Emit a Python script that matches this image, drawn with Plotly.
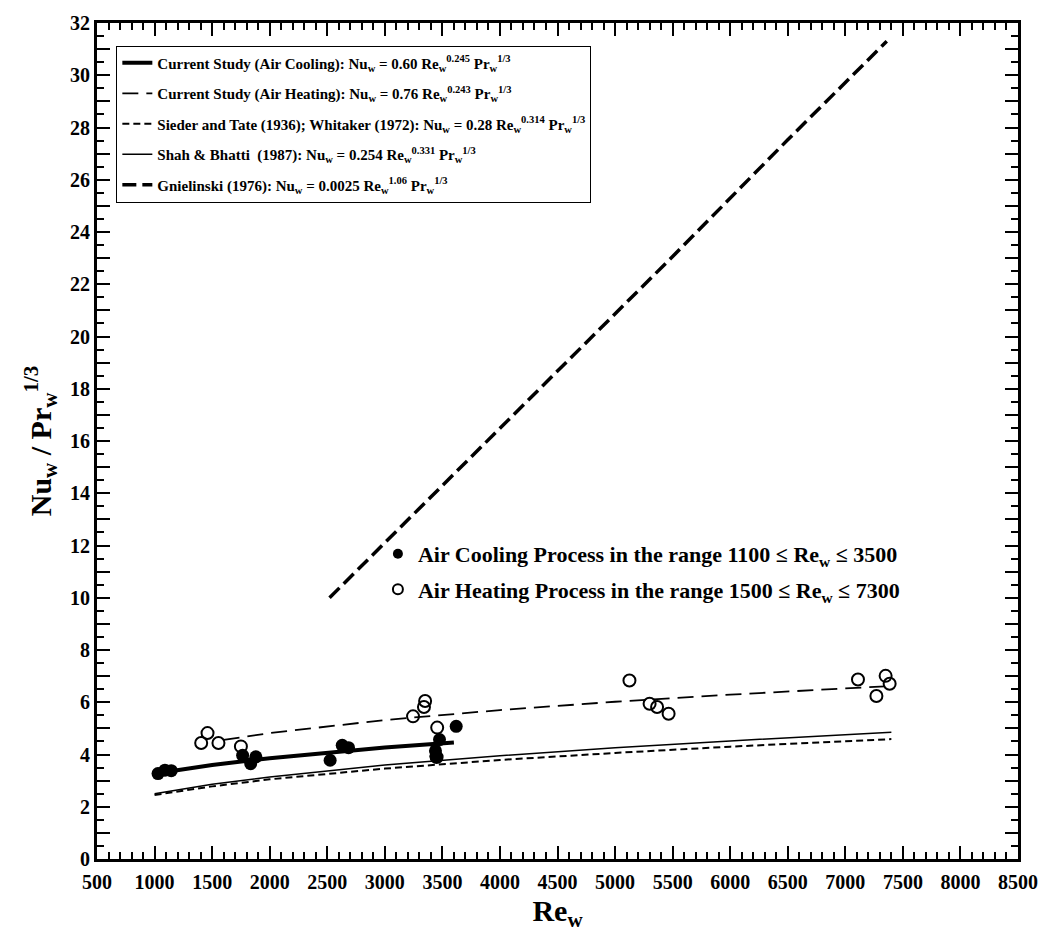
import plotly.graph_objects as go

# ---------------- data ----------------
# experimental points
cool_re = [1030, 1090, 1145, 1765, 1835, 1880, 2525, 2630, 2685, 3440, 3445, 3475, 3620]
cool_nu = [3.27, 3.40, 3.38, 3.97, 3.65, 3.91, 3.78, 4.35, 4.26, 4.14, 3.93, 4.57, 5.08]

heat_re = [1405, 1460, 1555, 1750, 3245, 3340, 3350, 3455, 3450, 5125, 5300, 5365, 5465, 7110, 7270, 7350, 7385]
heat_nu = [4.44, 4.82, 4.44, 4.31, 5.46, 5.82, 6.05, 5.03, 3.90, 6.83, 5.94, 5.82, 5.56, 6.87, 6.24, 7.01, 6.71]

# correlation curves
cool_fit_re = [1050, 1500, 2000, 2500, 3000, 3600]
cool_fit_nu = [3.30, 3.60, 3.86, 4.08, 4.27, 4.46]

heat_fit_re = [1600, 2000, 3000, 4000, 5000, 6000, 7000, 7400]
heat_fit_nu = [4.56, 4.82, 5.32, 5.70, 6.02, 6.29, 6.53, 6.62]

st_re = [1000, 1500, 2000, 3000, 4000, 5000, 6000, 7000, 7400]
st_nu = [2.45, 2.78, 3.05, 3.46, 3.79, 4.06, 4.30, 4.51, 4.59]

sb_re = [1000, 1500, 2000, 3000, 4000, 5000, 6000, 7000, 7400]
sb_nu = [2.50, 2.86, 3.14, 3.60, 3.95, 4.26, 4.52, 4.76, 4.85]

gn_re = [2520, 3500, 4500, 5500, 6500, 7360]
gn_nu = [10.0, 14.29, 18.64, 23.06, 27.53, 31.3]

# axis ticks
x_tick_vals = list(range(500, 8501, 500))
x_tick_text = [str(v) for v in x_tick_vals]
y_tick_vals = list(range(0, 33, 1))
y_tick_text = [str(v) if v % 2 == 0 else "" for v in y_tick_vals]

# legend labels
name_cool = "Current Study (Air Cooling): Nu<sub>w</sub> = 0.60 Re<sub>w</sub><sup>0.245</sup> Pr<sub>w</sub><sup>1/3</sup>"
name_heat = "Current Study (Air Heating): Nu<sub>w</sub> = 0.76 Re<sub>w</sub><sup>0.243</sup> Pr<sub>w</sub><sup>1/3</sup>"
name_st = "Sieder and Tate (1936); Whitaker (1972): Nu<sub>w</sub> = 0.28 Re<sub>w</sub><sup>0.314</sup> Pr<sub>w</sub><sup>1/3</sup>"
name_sb = "Shah &amp; Bhatti  (1987): Nu<sub>w</sub> = 0.254 Re<sub>w</sub><sup>0.331</sup> Pr<sub>w</sub><sup>1/3</sup>"
name_gn = "Gnielinski (1976): Nu<sub>w</sub> = 0.0025 Re<sub>w</sub><sup>1.06</sup> Pr<sub>w</sub><sup>1/3</sup>"
name_pc = "Air Cooling Process in the range 1100 ≤ Re<sub>w</sub> ≤ 3500"
name_ph = "Air Heating Process in the range 1500 ≤ Re<sub>w</sub> ≤ 7300"

fig = go.Figure()

fig.add_trace(go.Scatter(x=cool_fit_re, y=cool_fit_nu, mode="lines", name=name_cool, legendgroup="a",
                         line=dict(color="black", width=4), legend="legend"))
fig.add_trace(go.Scatter(x=heat_fit_re, y=heat_fit_nu, mode="lines", name=name_heat, legendgroup="b",
                         line=dict(color="black", width=1.8, dash="16px,8px"), legend="legend"))
fig.add_trace(go.Scatter(x=st_re, y=st_nu, mode="lines", name=name_st, legendgroup="c",
                         line=dict(color="black", width=2, dash="7px,4px"), legend="legend"))
fig.add_trace(go.Scatter(x=sb_re, y=sb_nu, mode="lines", name=name_sb, legendgroup="d",
                         line=dict(color="black", width=1.5), legend="legend"))
fig.add_trace(go.Scatter(x=gn_re, y=gn_nu, mode="lines", name=name_gn, legendgroup="e",
                         line=dict(color="black", width=3.5, dash="14px,6px"), legend="legend"))

fig.add_trace(go.Scatter(x=heat_re, y=heat_nu, mode="markers", name=name_ph, showlegend=False,
                         marker=dict(symbol="circle-open", size=12, color="black", line=dict(width=2))))
fig.add_trace(go.Scatter(x=cool_re, y=cool_nu, mode="markers", name=name_pc, showlegend=False,
                         marker=dict(symbol="circle", size=13, color="black")))

# legend entries for the point series
fig.add_trace(go.Scatter(x=[None], y=[None], mode="markers", name=name_pc, legend="legend2", legendgroup="p1",
                         marker=dict(symbol="circle", size=10, color="black")))
fig.add_trace(go.Scatter(x=[None], y=[None], mode="markers", name=name_ph, legend="legend2", legendgroup="p2",
                         marker=dict(symbol="circle-open", size=10, color="black", line=dict(width=2))))

axis_common = dict(
    showline=True, linecolor="black", linewidth=3, mirror="ticks",
    ticks="inside", tickcolor="black", tickwidth=2, ticklen=13,
    showgrid=False, zeroline=False,
    tickfont=dict(family="Liberation Serif", size=20, color="black", weight="bold"),
)

fig.update_xaxes(range=[500, 8500], tickmode="array", tickvals=x_tick_vals, ticktext=x_tick_text,
                 ticklabelstandoff=3,
                 minor=dict(dtick=100, tick0=500, ticks="inside", ticklen=7, tickwidth=1.5, tickcolor="black"),
                 title=dict(text="Re<sub>w</sub>", font=dict(family="Liberation Serif", size=30, color="black", weight="bold"),
                            standoff=8),
                 **axis_common)
fig.update_yaxes(range=[0, 32], tickmode="array", tickvals=y_tick_vals, ticktext=y_tick_text,
                 minor=dict(dtick=0.5, tick0=0, ticks="inside", ticklen=7, tickwidth=1.5, tickcolor="black"),
                 title=dict(text="Nu<sub>w</sub> / Pr<sub>w</sub><sup>1/3</sup>",
                            font=dict(family="Liberation Serif", size=30, color="black", weight="bold"),
                            standoff=10),
                 **axis_common)

fig.update_layout(
    width=1050, height=934,
    margin=dict(l=97, r=26, t=21, b=75),
    paper_bgcolor="white", plot_bgcolor="white",
    font=dict(family="Liberation Serif", color="black", weight="bold"),
    showlegend=True,
    legend=dict(x=0.021, y=0.973, xanchor="left", yanchor="top",
                bgcolor="white", bordercolor="black", borderwidth=1,
                font=dict(family="Liberation Serif", size=15, color="black", weight="bold"),
                tracegroupgap=8, itemwidth=30),
    legend2=dict(x=0.305, y=0.39, xanchor="left", yanchor="top",
                 bgcolor="rgba(0,0,0,0)", borderwidth=0,
                 font=dict(family="Liberation Serif", size=22, color="black", weight="bold"),
                 tracegroupgap=4),
)

fig.write_html("out.html")
